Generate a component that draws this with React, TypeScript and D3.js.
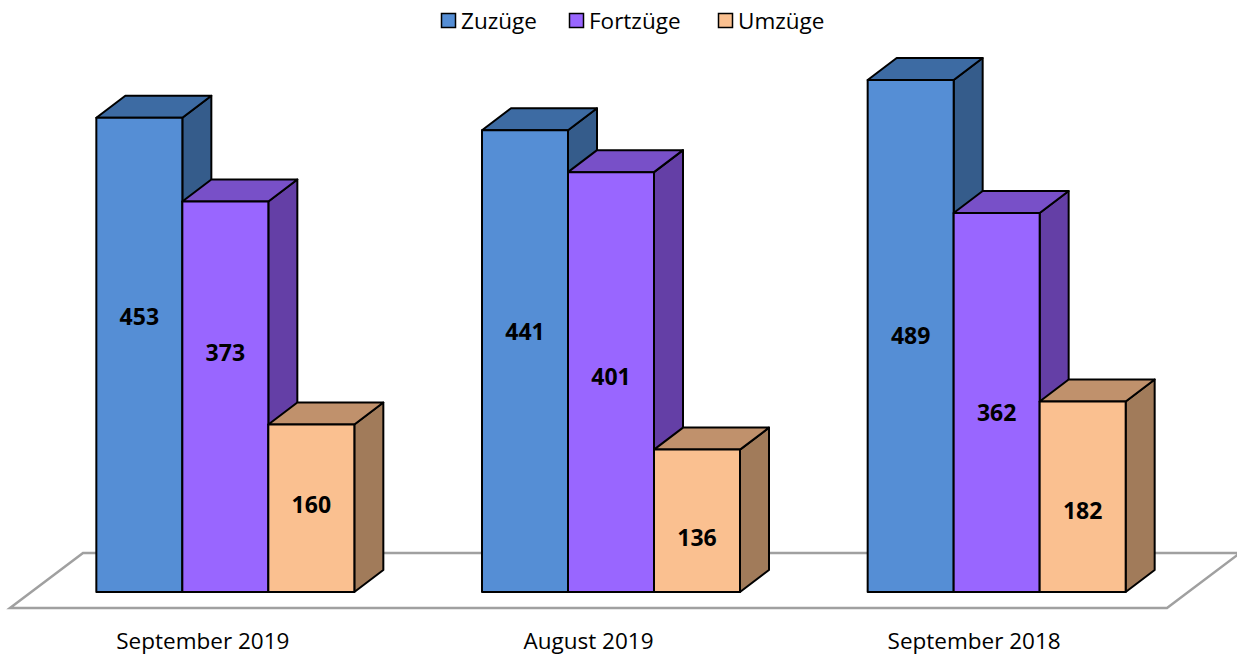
import React from 'react';
import * as d3 from 'd3';

const categories = ['September 2019', 'August 2019', 'September 2018'];
const seriesNames = ['Zuzüge', 'Fortzüge', 'Umzüge'];
const zuzuege = [453, 441, 489];
const fortzuege = [373, 401, 362];
const umzuege = [160, 136, 182];

// front / top / side colours per series
const colors = [
  { front: '#558ed5', top: '#3d6ba3', side: '#355c8b' },
  { front: '#9966ff', top: '#7850c8', side: '#643fa6' },
  { front: '#fac090', top: '#c0916c', side: '#a17b5a' },
];

// Excel moved some labels by hand; pixel nudges from the bar middle
const labelNudge = [
  [-38, -44, -3],
  [-29, -5, 17],
  [0, 10, 14],
];

const W = 1237;
const H = 657;
const font = '"Open Sans", Lato, "Noto Sans", sans-serif';

const App = () => {
  const values = [zuzuege, fortzuege, umzuege];

  // floor front edge
  const x = d3.scaleBand().domain(categories).range([10, 1167]);
  const floorY = 608;
  const floorDepth = { dx: 73, dy: -55 };
  // bar front plane sits a bit behind floor front
  const off = { dx: 22.5, dy: -16 };
  const depth = { dx: 29, dy: -22 };
  const barW = 86;

  const y = d3.scaleLinear().domain([0, 500]).range([floorY + off.dy, floorY + off.dy - 500 * 1.047]);
  const y0 = y(0);

  const floor = [
    [10, floorY],
    [1167, floorY],
    [1167 + floorDepth.dx, floorY + floorDepth.dy],
    [10 + floorDepth.dx, floorY + floorDepth.dy],
  ];

  const bars = [];
  categories.forEach((c, ci) => {
    const center = x(c) + x.bandwidth() / 2 + off.dx;
    const left = center - (barW * seriesNames.length) / 2;
    seriesNames.forEach((s, si) => {
      const v = values[si][ci];
      const x0 = left + si * barW;
      const x1 = x0 + barW;
      const yt = y(v);
      const col = colors[si];
      const { dx, dy } = depth;
      bars.push(
        <g key={`${ci}-${si}`} stroke="#000" strokeWidth={2} strokeLinejoin="round">
          <polygon
            points={`${x1},${yt} ${x1 + dx},${yt + dy} ${x1 + dx},${y0 + dy} ${x1},${y0}`}
            fill={col.side}
          />
          <polygon
            points={`${x0},${yt} ${x0 + dx},${yt + dy} ${x1 + dx},${yt + dy} ${x1},${yt}`}
            fill={col.top}
          />
          <rect x={x0} y={yt} width={barW} height={y0 - yt} fill={col.front} />
          <text
            x={(x0 + x1) / 2}
            y={(yt + y0) / 2 + labelNudge[ci][si]}
            dy="0.35em"
            textAnchor="middle"
            stroke="none"
            fill="#000"
            fontWeight="bold"
            fontSize={23}
            fontFamily={font}
          >
            {v}
          </text>
        </g>
      );
    });
  });

  const legendX = [441, 569, 718];

  return (
    <svg width={W} height={H} style={{ position: 'absolute', left: 0, top: 0, background: '#fff' }}>
      <polygon
        points={floor.map((p) => p.join(',')).join(' ')}
        fill="none"
        stroke="#a0a0a0"
        strokeWidth={2.5}
      />
      {bars}
      {categories.map((c) => (
        <text
          key={c}
          x={x(c) + x.bandwidth() / 2}
          y={649}
          textAnchor="middle"
          fontSize={22.5}
          fontFamily={font}
          fill="#000"
        >
          {c}
        </text>
      ))}
      {seriesNames.map((s, i) => (
        <g key={s} transform={`translate(${legendX[i]},13)`}>
          <rect x={0.5} y={0.5} width={14} height={14} fill={colors[i].front} stroke="#000" strokeWidth={1.5} />
          <text x={20} y={16} fontSize={22.5} fontFamily={font} fill="#000">
            {s}
          </text>
        </g>
      ))}
    </svg>
  );
};

export default App;
